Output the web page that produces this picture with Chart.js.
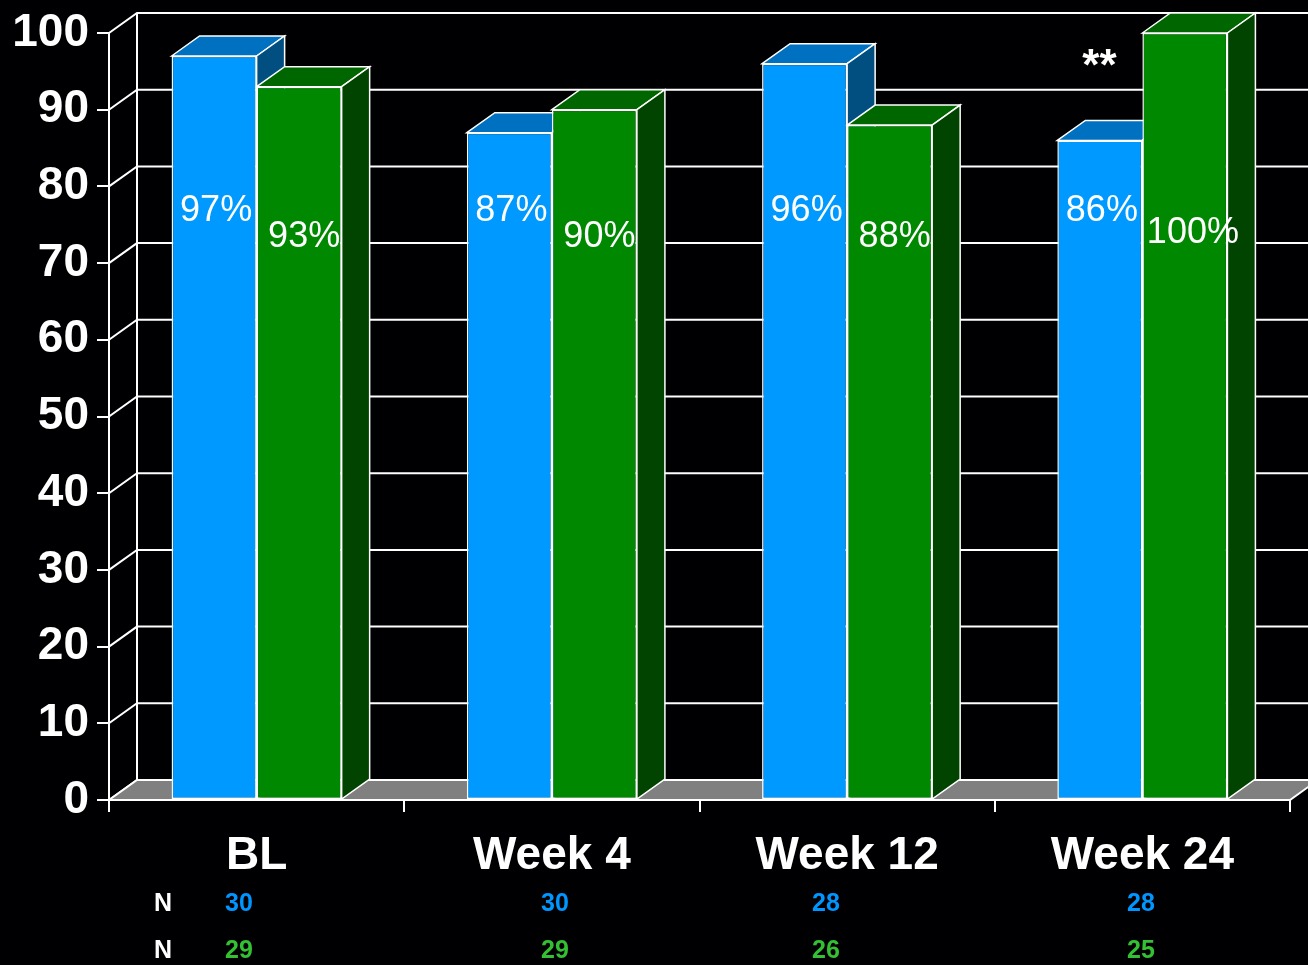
<!DOCTYPE html>
<html>
<head>
<meta charset="utf-8">
<script src="https://cdn.jsdelivr.net/npm/chart.js@4/dist/chart.umd.min.js"></script>
<style>
html,body{margin:0;padding:0;background:#000;}
#wrap{width:1308px;height:965px;}
</style>
</head>
<body>
<div id="wrap"><canvas id="c" width="1308" height="965"></canvas></div>
<script>
// ---- data ----
const categories = ['BL', 'Week 4', 'Week 12', 'Week 24'];
const blueValues = [97, 87, 96, 86];
const greenValues = [93, 90, 88, 100];
const blueLabels = ['97%', '87%', '96%', '86%'];
const greenLabels = ['93%', '90%', '88%', '100%'];
const blueN = ['30', '30', '28', '28'];
const greenN = ['29', '29', '26', '25'];
const yTicks = [0, 10, 20, 30, 40, 50, 60, 70, 80, 90, 100];
const significance = ['', '', '', '**'];

// ---- style ----
const FONT = "'Liberation Sans', Arial, Helvetica, sans-serif";
const DX = 28, DY = -20;
const colors = {
  blue:  {front: '#0099ff', top: '#0070c0', side: '#004f80', text: '#0096ff'},
  green: {front: '#008800', top: '#006600', side: '#004400', text: '#33c033'}
};
const W = 1308, H = 965;
const CA = {left: 109, right: 1290, top: 33, bottom: 800};

function poly(ctx, pts, fill, stroke, lw) {
  ctx.beginPath();
  ctx.moveTo(pts[0][0], pts[0][1]);
  for (let i = 1; i < pts.length; i++) ctx.lineTo(pts[i][0], pts[i][1]);
  ctx.closePath();
  if (fill) { ctx.fillStyle = fill; ctx.fill(); }
  if (stroke) { ctx.strokeStyle = stroke; ctx.lineWidth = lw; ctx.stroke(); }
}

const threeD = {
  id: 'threeD',
  beforeDatasetsDraw(chart) {
    const ctx = chart.ctx;
    const ys = chart.scales.y;
    const a = chart.chartArea;
    ctx.save();
    // back wall grid
    ctx.strokeStyle = '#ffffff';
    ctx.lineWidth = 2;
    yTicks.forEach(v => {
      const yp = ys.getPixelForValue(v);
      ctx.beginPath();
      ctx.moveTo(a.left, yp);
      ctx.lineTo(a.left + DX, yp + DY);
      ctx.lineTo(W + 5, yp + DY);
      ctx.stroke();
    });
    ctx.beginPath();
    ctx.moveTo(a.left + DX, ys.getPixelForValue(100) + DY);
    ctx.lineTo(a.left + DX, ys.getPixelForValue(0) + DY);
    ctx.stroke();
    // floor
    const b = ys.getPixelForValue(0);
    poly(ctx, [[a.left, b], [a.left + DX, b + DY], [a.right + DX, b + DY], [a.right, b]], '#808080', '#ffffff', 2);
    // 3D tops and sides
    const keys = ['blue', 'green'];
    chart.data.datasets.forEach((ds, di) => {
      const meta = chart.getDatasetMeta(di);
      const c = colors[keys[di]];
      meta.data.forEach(el => {
        const x1 = el.x - el.width / 2, x2 = el.x + el.width / 2;
        const yt = el.y, yb = el.base;
        poly(ctx, [[x1, yt], [x1 + DX, yt + DY], [x2 + DX, yt + DY], [x2, yt]], c.top, '#ffffff', 1.5);
        poly(ctx, [[x2, yt], [x2 + DX, yt + DY], [x2 + DX, yb + DY], [x2, yb]], c.side, '#ffffff', 1.5);
      });
    });
    ctx.restore();
  },
  afterDatasetsDraw(chart) {
    const ctx = chart.ctx;
    const xs = chart.scales.x;
    const a = chart.chartArea;
    ctx.save();
    // front floor edge
    ctx.strokeStyle = '#ffffff';
    ctx.lineWidth = 2;
    ctx.beginPath();
    ctx.moveTo(a.left, a.bottom);
    ctx.lineTo(a.right, a.bottom);
    ctx.stroke();
    // value labels
    ctx.fillStyle = '#ffffff';
    ctx.font = '36px ' + FONT;
    ctx.textAlign = 'center';
    ctx.textBaseline = 'middle';
    const labelY = [211, 237];
    const lbls = [blueLabels, greenLabels];
    chart.data.datasets.forEach((ds, di) => {
      const meta = chart.getDatasetMeta(di);
      meta.data.forEach((el, i) => {
        const wide = lbls[di][i].length > 3;
        const off = di === 1 ? (wide ? 8 : 5) : 2;
        ctx.fillText(lbls[di][i], el.x + off, labelY[di] + (di === 1 && wide ? -4 : 0));
      });
    });
    // significance
    ctx.font = 'bold 44px ' + FONT;
    ctx.textBaseline = 'alphabetic';
    significance.forEach((s, i) => {
      if (!s) return;
      ctx.fillText(s, xs.getPixelForValue(i) - 43, 80);
    });
    // N rows
    const nX = [239, 555, 826, 1141];
    ctx.font = 'bold 25px ' + FONT;
    ctx.textBaseline = 'middle';
    ctx.fillStyle = '#ffffff';
    ctx.fillText('N', 163, 904);
    ctx.fillText('N', 163, 951);
    categories.forEach((cat, i) => {
      ctx.fillStyle = colors.blue.text;
      ctx.fillText(blueN[i], nX[i], 904);
      ctx.fillStyle = colors.green.text;
      ctx.fillText(greenN[i], nX[i], 951);
    });
    ctx.restore();
  }
};

const bg = {
  id: 'bg',
  beforeDraw(chart) {
    const ctx = chart.ctx;
    ctx.save();
    ctx.fillStyle = '#000002';
    ctx.fillRect(0, 0, chart.width, chart.height);
    ctx.restore();
  }
};

new Chart(document.getElementById('c'), {
  type: 'bar',
  data: {
    labels: categories,
    datasets: [
      {data: blueValues, backgroundColor: colors.blue.front, borderColor: '#ffffff', borderWidth: 1.5, borderSkipped: false},
      {data: greenValues, backgroundColor: colors.green.front, borderColor: '#ffffff', borderWidth: 1.5, borderSkipped: false}
    ]
  },
  options: {
    responsive: false,
    animation: false,
    events: [],
    categoryPercentage: 0.576,
    barPercentage: 1.0,
    layout: {padding: {left: 0, right: W - CA.right, top: CA.top, bottom: 0}},
    plugins: {legend: {display: false}, tooltip: {enabled: false}, title: {display: false}},
    scales: {
      x: {
        afterFit(s) { s.height = H - CA.bottom; s.paddingLeft = 0; s.paddingRight = 0; },
        grid: {drawOnChartArea: false, drawTicks: true, tickLength: 12, color: '#ffffff', lineWidth: 2, offset: true},
        border: {display: false},
        ticks: {color: '#ffffff', font: {family: FONT, size: 46, weight: 'bold'}, padding: 17, maxRotation: 0}
      },
      y: {
        min: 0, max: 100,
        afterFit(s) { s.width = CA.left; s.paddingTop = 0; s.paddingBottom = 0; },
        grid: {drawOnChartArea: false, drawTicks: true, tickLength: 12, color: '#ffffff', lineWidth: 2},
        border: {display: true, color: '#ffffff', width: 2},
        afterBuildTicks(s) { s.ticks = yTicks.map(v => ({value: v})); },
        ticks: {color: '#ffffff', font: {family: FONT, size: 46, weight: 'bold'}, padding: 8}
      }
    }
  },
  plugins: [bg, threeD]
});
</script>
</body>
</html>
